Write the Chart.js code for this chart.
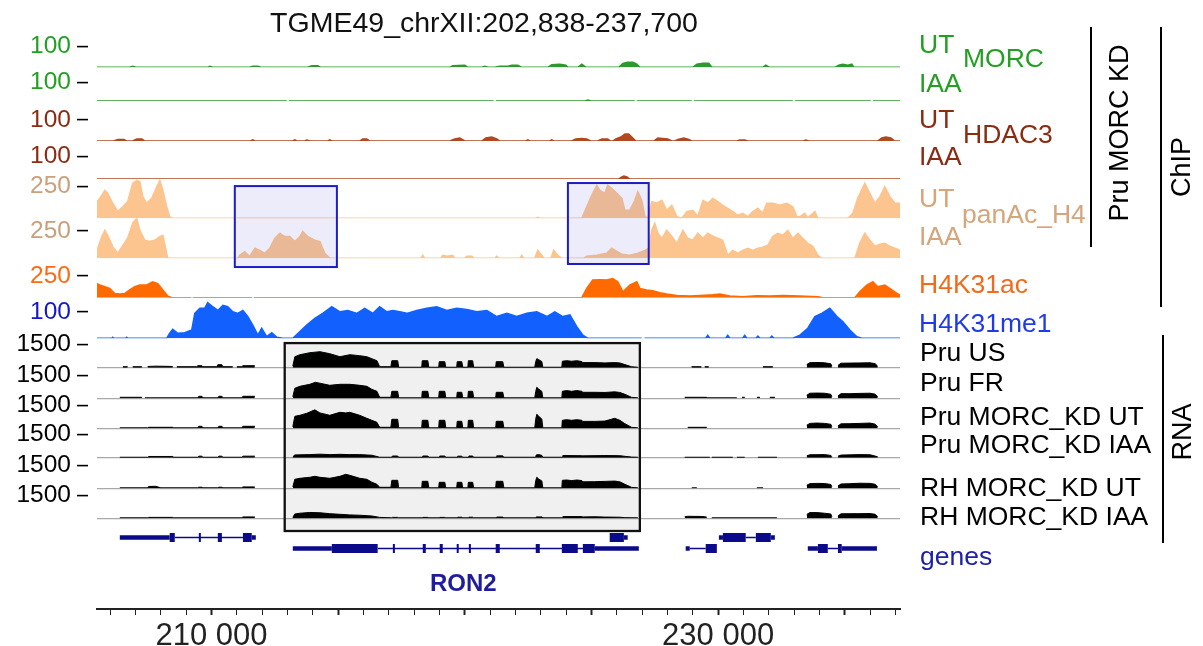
<!DOCTYPE html>
<html lang="en">
<head>
<meta charset="UTF-8">
<title>TGME49_chrXII:202,838-237,700</title>
<script src="https://cdn.jsdelivr.net/npm/chart.js@4.4.0/dist/chart.umd.min.js"></script>
<style>
  html, body { margin: 0; padding: 0; background: #fff; }
  #wrap { position: relative; width: 1203px; height: 646px; overflow: hidden; font-family: "Liberation Sans", Arial, sans-serif; }
  #chart { position: absolute; left: 0; top: 0; }
  .title { position: absolute; left: 484px; top: 8px; font-size: 28.5px; line-height: 28px; color: #111; white-space: nowrap;
           transform: translateX(-50%); }
  .lbl { position: absolute; font-size: 26.5px; line-height: 27px; white-space: nowrap; }
  .vline { position: absolute; width: 2px; background: #000; }
  .vtext { position: absolute; font-size: 27px; line-height: 27px; white-space: nowrap; color: #000;
           transform: translate(-50%, -50%) rotate(-90deg); }
</style>
</head>
<body>
<div id="wrap">
  <canvas id="chart" width="1203" height="646"></canvas>

  <div class="title">TGME49_chrXII:202,838-237,700</div>

  <!-- ChIP track names -->
  <div class="lbl" style="left:919px; top:31px; color:#23a023;">UT</div>
  <div class="lbl" style="left:963px; top:45px; color:#23a023;">MORC</div>
  <div class="lbl" style="left:919px; top:70px; color:#23a023;">IAA</div>
  <div class="lbl" style="left:919px; top:106px; color:#8b2c12;">UT</div>
  <div class="lbl" style="left:963px; top:121px; color:#8b2c12;">HDAC3</div>
  <div class="lbl" style="left:919px; top:143px; color:#8b2c12;">IAA</div>
  <div class="lbl" style="left:919px; top:185px; color:#d6a57a;">UT</div>
  <div class="lbl" style="left:962px; top:201px; color:#d6a57a;">panAc_H4</div>
  <div class="lbl" style="left:919px; top:223px; color:#d6a57a;">IAA</div>
  <div class="lbl" style="left:919px; top:271px; color:#f26a1b;">H4K31ac</div>
  <div class="lbl" style="left:919px; top:310px; color:#1f3be8;">H4K31me1</div>

  <!-- RNA track names -->
  <div class="lbl" style="left:920px; top:339px; color:#000;">Pru US</div>
  <div class="lbl" style="left:920px; top:369px; color:#000;">Pru FR</div>
  <div class="lbl" style="left:920px; top:403px; color:#000;">Pru MORC_KD UT</div>
  <div class="lbl" style="left:920px; top:431px; color:#000;">Pru MORC_KD IAA</div>
  <div class="lbl" style="left:920px; top:474px; color:#000;">RH MORC_KD UT</div>
  <div class="lbl" style="left:920px; top:503px; color:#000;">RH MORC_KD IAA</div>
  <div class="lbl" style="left:920px; top:543px; color:#2020a8;">genes</div>

  <div class="lbl" style="left:430px; top:571px; font-size:24px; line-height:24px; font-weight:bold; color:#1e1e9c;">RON2</div>

  <!-- group brackets -->
  <div class="vline" style="left:1090px; top:27px; height:220px;"></div>
  <div class="vline" style="left:1160px; top:27px; height:280px;"></div>
  <div class="vline" style="left:1162px; top:335px; height:208px;"></div>
  <div class="vtext" style="left:1119px; top:133px;">Pru MORC KD</div>
  <div class="vtext" style="left:1181px; top:167px;">ChIP</div>
  <div class="vtext" style="left:1182px; top:432px;">RNA</div>
</div>

<script>
    // positions in kb on TGME49 chrXII, values are track signal
    var morcUT = [[205.48,0],[206.77,0],[206.89,5],[207.01,0],[209.85,0],[209.93,5],[210.05,0],[211.51,0],[211.63,5],[211.83,5],[211.95,0],
        [213.80,0],[213.96,7],[214.20,7],[214.31,0],[219.41,0],[219.52,7],[220.00,10],[220.12,0],[220.67,0],[220.79,5],[220.91,0],
        [221.18,0],[221.38,5],[221.70,5],[221.86,10],[222.09,10],[222.25,0],[223.28,0],[223.43,12],[223.75,15],[223.99,10],[224.07,0],
        [224.46,0],[224.62,15],[224.78,0],[226.08,0],[226.24,19],[226.43,24],[226.63,24],[226.79,15],[226.91,0],[229.00,0],[229.16,15],
        [229.40,19],[229.63,19],[229.75,0],[231.76,0],[231.88,10],[232.04,0],[234.61,0],[234.76,10],[234.92,15],[235.12,10],[235.28,15],
        [235.36,0],[237.18,0]];
    var morcIAA = [[205.48,0],[212.97,0],[213.01,null],[213.05,0],[221.14,0],[221.18,null],[221.22,0],[224.75,0],[224.86,5],[224.98,0],
        [226.71,0],[226.75,null],[226.79,0],[228.96,0],[229.00,null],[229.04,0],[232.95,0],[232.99,null],[233.03,0],[236.03,0],
        [236.07,null],[236.11,0],[237.18,0]];
    var hdacUT = [[205.48,0],[206.14,0],[206.30,7],[206.54,7],[206.65,0],[206.89,0],[207.05,10],[207.25,10],[207.37,0],[211.55,0],
        [211.63,5],[211.71,0],[213.21,0],[213.29,5],[213.37,0],[213.68,0],[213.76,5],[213.88,0],[214.59,0],[214.67,5],[214.75,0],
        [215.85,0],[215.97,10],[216.13,10],[216.25,0],[219.41,0],[219.60,10],[219.80,14],[220.00,0],[220.67,0],[220.83,14],[221.06,19],
        [221.26,10],[221.38,0],[222.41,0],[222.49,5],[222.57,0],[223.36,0],[223.43,5],[223.51,0],[224.22,0],[224.38,10],[224.62,12],
        [224.81,10],[224.97,0],[225.25,0],[225.41,10],[225.64,10],[225.76,0],[225.84,0],[225.96,10],[226.16,19],[226.32,33],[226.47,33],
        [226.63,14],[226.75,0],[227.46,0],[227.62,14],[227.82,12],[228.01,10],[228.17,0],[228.29,0],[228.41,7],[228.65,14],[228.84,7],
        [228.96,0],[230.74,0],[230.86,5],[231.05,5],[231.17,0],[233.38,0],[233.46,5],[233.58,0],[236.30,0],[236.46,14],[236.62,19],
        [236.82,14],[236.97,0],[237.18,0]];
    var hdacIAA = [[205.48,0],[226.08,0],[226.20,9],[226.28,13],[226.40,9],[226.51,0],[237.18,0]];
    var panAcUT = [[205.48,132],[205.59,158],[205.79,221],[205.90,198],[206.10,119],[206.30,53],[206.50,92],[206.69,132],[206.89,277],
        [207.05,300],[207.17,290],[207.29,171],[207.44,119],[207.64,158],[207.84,250],[207.96,300],[208.08,221],[208.23,92],[208.35,13],
        [208.43,0],[222.80,0],[222.88,8],[222.96,0],[224.62,0],[224.81,92],[225.01,182],[225.21,261],[225.33,221],[225.53,198],
        [225.64,261],[225.80,237],[226.00,198],[226.20,158],[226.32,63],[226.51,63],[226.71,142],[226.83,211],[226.99,142],[227.11,13],
        [227.22,0],[227.38,132],[227.58,119],[227.78,142],[227.97,63],[228.17,103],[228.37,13],[228.57,0],[228.76,53],[229.00,63],
        [229.20,16],[229.40,142],[229.59,119],[229.79,158],[229.99,132],[230.18,103],[230.38,79],[230.58,53],[230.78,24],[230.97,40],
        [231.17,13],[231.37,53],[231.57,79],[231.76,40],[231.92,119],[232.16,119],[232.44,103],[232.71,119],[232.95,92],[233.11,13],
        [233.23,13],[233.42,40],[233.54,4],[233.82,53],[233.94,0],[235.12,0],[235.32,40],[235.51,158],[235.79,277],[235.99,198],
        [236.19,119],[236.39,171],[236.58,250],[236.78,171],[236.98,119],[237.18,119]];
    var panAcIAA = [[205.48,73],[205.67,199],[205.79,256],[205.90,211],[206.10,107],[206.30,46],[206.50,119],[206.69,183],[206.89,321],
        [207.05,366],[207.17,256],[207.37,165],[207.56,153],[207.76,165],[207.96,199],[208.08,211],[208.19,92],[208.27,0],[211.04,0],
        [211.12,30],[211.31,61],[211.51,16],[211.71,92],[211.91,73],[212.10,46],[212.30,92],[212.50,183],[212.70,229],[212.89,199],
        [213.09,199],[213.29,153],[213.49,199],[213.60,245],[213.80,199],[214.08,165],[214.28,153],[214.47,46],[214.67,0],[218.26,0],
        [218.34,27],[218.42,0],[219.05,0],[219.13,27],[219.33,18],[219.52,27],[219.60,0],[220.00,0],[220.08,18],[220.28,18],[220.36,0],
        [221.18,0],[221.26,18],[221.34,0],[222.17,0],[222.25,27],[222.33,0],[222.76,0],[222.88,73],[223.00,37],[223.12,0],[223.40,0],
        [223.51,73],[223.67,27],[223.83,0],[224.70,0],[224.81,18],[225.21,27],[225.60,46],[225.80,92],[226.00,64],[226.20,37],
        [226.51,27],[226.83,46],[227.11,73],[227.26,92],[227.38,256],[227.50,321],[227.62,229],[227.78,183],[227.97,256],[228.17,202],
        [228.37,137],[228.61,256],[228.80,183],[229.00,165],[229.20,229],[229.40,183],[229.59,229],[229.79,202],[229.99,183],
        [230.18,165],[230.38,27],[230.58,73],[230.78,46],[230.97,73],[231.17,92],[231.37,73],[231.57,92],[231.76,101],[231.96,119],
        [232.16,202],[232.36,229],[232.55,211],[232.75,256],[232.95,183],[233.15,229],[233.34,183],[233.54,137],[233.74,110],
        [233.94,27],[234.09,0],[235.40,0],[235.59,137],[235.79,229],[235.99,165],[236.19,110],[236.39,128],[236.58,137],[236.78,110],
        [236.98,92],[237.18,73]];
    var h4k31ac = [[205.48,161],[205.59,146],[205.79,127],[205.98,107],[206.18,49],[206.38,43],[206.58,49],[206.77,89],[206.97,127],
        [207.17,146],[207.44,146],[207.68,184],[207.88,161],[208.08,89],[208.27,20],[208.43,0],[209.20,0],[209.22,null],[209.26,0],
        [211.61,0],[211.63,null],[211.67,0],[224.62,0],[224.81,107],[225.05,204],[225.33,207],[225.60,204],[225.84,222],[226.04,184],
        [226.24,69],[226.51,146],[226.79,184],[226.91,107],[227.18,89],[227.42,81],[227.70,58],[227.97,43],[228.37,26],[228.88,20],
        [229.28,26],[229.79,35],[230.07,43],[230.46,20],[230.97,12],[231.53,23],[232.04,20],[232.55,26],[233.23,20],[233.94,12],
        [234.13,0],[235.40,0],[235.59,69],[235.87,146],[236.11,184],[236.30,127],[236.58,146],[236.86,89],[237.06,49],[237.18,31]];
    var h4k31me1 = [[205.48,0],[206.06,0],[206.10,4],[206.14,0],[206.61,0],[206.65,4],[206.69,0],[208.23,0],[208.35,19],[208.47,34],
        [208.67,19],[208.94,21],[209.22,31],[209.34,94],[209.54,113],[209.73,113],[209.85,134],[210.05,119],[210.25,105],[210.45,124],
        [210.64,119],[210.84,100],[211.04,94],[211.24,105],[211.43,82],[211.63,50],[211.83,12],[211.98,38],[212.18,6],[212.38,21],
        [212.58,4],[212.81,0],[213.21,0],[213.49,25],[213.76,50],[214.08,75],[214.39,94],[214.75,119],[215.07,100],[215.38,105],
        [215.74,94],[216.05,113],[216.37,94],[216.64,119],[216.92,100],[217.16,105],[217.43,100],[217.71,94],[218.10,105],[218.50,113],
        [218.89,119],[219.29,105],[219.68,113],[220.08,109],[220.47,100],[220.87,105],[221.26,82],[221.66,94],[222.05,82],[222.45,94],
        [222.84,100],[223.24,82],[223.55,100],[223.87,82],[224.15,88],[224.42,44],[224.66,12],[224.86,0],[226.99,0],[227.03,null],
        [227.09,0],[229.51,0],[229.59,11],[229.67,0],[230.30,0],[230.38,11],[230.46,0],[230.97,0],[231.05,11],[231.13,0],[231.49,0],
        [231.57,8],[231.65,0],[232.04,0],[232.12,8],[232.20,0],[232.95,0],[233.23,12],[233.54,38],[233.82,82],[234.09,94],[234.41,113],
        [234.69,82],[234.92,63],[235.20,31],[235.48,6],[235.67,0],[237.18,0]];

    // RNA coverage, one list per covered stretch
    var rnaPruUS = [
        [[206.50,65],[206.69,65]], [[206.89,65],[207.25,65]], [[207.48,80],[207.80,100],[208.20,90],[208.47,80]],
        [[208.63,65],[209.42,65],[209.46,130],[209.62,130],[209.66,65],[210.21,65],[210.25,195],[210.41,195],[210.45,65],[210.84,65]],
        [[211.00,65],[211.20,65],[211.24,130],[211.71,130]],
        [[213.21,100],[213.29,715],[213.49,845],[213.88,975],[214.28,1040],[214.67,910],[215.07,715],[215.46,845],[215.85,780],
         [216.13,715],[216.33,585],[216.53,455],[216.64,65],[217.08,65],[217.12,455],[217.35,455],[217.39,30],[218.30,30],[218.32,455],
         [218.54,455],[218.58,30],[218.97,30],[218.99,390],[219.21,390],[219.25,30],[219.68,30],[219.70,390],[219.88,390],[219.92,30],
         [220.12,30],[220.14,455],[220.31,455],[220.35,30],[221.22,30],[221.24,390],[221.50,390],[221.54,30],[222.76,30],[222.80,400],
         [222.84,585],[222.92,520],[223.04,400],[223.08,30],[223.83,30],[223.85,420],[224.02,455],[224.22,420],[224.42,455],[224.62,400],
         [224.66,330],[225.13,330],[225.53,310],[225.92,330],[226.12,310],[226.32,200],[226.59,60],[226.83,30]],
        [[228.95,65],[229.34,65]], [[229.47,65],[229.63,65]], [[231.77,65],[232.16,65]],
        [[233.50,200],[233.62,325],[233.90,340],[234.20,320],[234.45,250],[234.49,100]],
        [[234.73,150],[234.85,290],[235.20,300],[235.60,310],[236.00,320],[236.20,260],[236.30,100]]
    ];
    var rnaPruFR = [
        [[206.38,65],[207.25,65]],
        [[207.37,30],[209.46,30],[209.50,130],[209.62,130],[209.66,30],[210.25,30],[210.29,130],[210.41,130],[210.45,30],[211.20,30],
         [211.24,130],[211.71,130]],
        [[213.21,100],[213.29,650],[213.49,780],[213.88,910],[214.10,1040],[214.28,980],[214.67,845],[215.07,910],[215.46,910],[215.85,845],
         [216.13,780],[216.33,585],[216.53,455],[216.64,65],[217.08,65],[217.12,455],[217.35,455],[217.39,30],[218.30,30],[218.32,455],
         [218.54,455],[218.58,30],[218.97,30],[218.99,455],[219.21,455],[219.25,30],[219.68,30],[219.70,390],[219.88,390],[219.92,30],
         [220.12,30],[220.14,455],[220.31,455],[220.35,30],[221.22,30],[221.24,390],[221.50,390],[221.54,30],[222.76,30],[222.80,450],
         [222.84,715],[222.92,600],[223.04,450],[223.08,30],[223.83,30],[223.85,455],[224.02,500],[224.22,455],[224.42,500],[224.62,455],
         [224.66,390],[225.13,390],[225.53,380],[225.92,420],[226.12,380],[226.32,260],[226.59,60],[226.83,30]],
        [[228.68,65],[229.55,65],[229.57,30],[230.74,30]], [[230.94,65],[231.05,65]], [[231.53,65],[231.65,65]], [[232.04,65],[232.24,65]],
        [[233.50,200],[233.62,330],[233.90,340],[234.20,330],[234.45,260],[234.49,100]],
        [[234.73,150],[234.85,300],[235.20,300],[235.60,320],[236.00,330],[236.20,270],[236.30,100]]
    ];
    var rnaPruKdUT = [
        [[206.38,30],[207.48,30],[207.52,65],[208.47,65],[208.51,30],[209.46,30],[209.50,130],[209.62,130],[209.66,30],[210.25,30],
         [210.29,130],[210.41,130],[210.45,30],[211.20,30],[211.24,130],[211.71,130]],
        [[213.21,100],[213.29,780],[213.49,845],[213.76,975],[214.08,1200],[214.28,1000],[214.67,845],[215.07,1040],[215.30,1000],
         [215.46,1040],[215.85,845],[216.13,650],[216.33,520],[216.53,390],[216.64,65],[217.08,65],[217.12,585],[217.35,585],[217.39,30],
         [218.30,30],[218.32,520],[218.54,520],[218.58,30],[218.97,30],[218.99,520],[219.21,520],[219.25,30],[219.68,30],[219.70,455],
         [219.88,455],[219.92,30],[220.12,30],[220.14,520],[220.31,520],[220.35,30],[221.22,30],[221.24,455],[221.50,455],[221.54,30],
         [222.76,30],[222.80,600],[222.84,910],[222.92,780],[223.04,600],[223.08,30],[223.83,30],[223.85,520],[224.02,560],[224.22,520],
         [224.42,560],[224.62,520],[224.66,450],[225.13,450],[225.53,470],[225.92,650],[226.12,520],[226.32,300],[226.59,60],[226.83,30]],
        [[228.80,65],[229.55,65]],
        [[233.50,200],[233.62,320],[233.90,340],[234.20,320],[234.45,260],[234.49,100]],
        [[234.73,150],[234.85,290],[235.20,300],[235.60,320],[236.00,340],[236.20,270],[236.30,100]]
    ];
    var rnaPruKdIAA = [
        [[206.38,30],[207.48,30],[207.52,80],[208.47,80],[208.51,30],[209.46,30],[209.50,100],[209.62,100],[209.66,30],[210.25,30],
         [210.29,100],[210.41,100],[210.45,30],[211.20,30],[211.24,100],[211.71,100]],
        [[213.21,60],[213.29,180],[213.88,200],[214.28,230],[214.67,200],[215.07,220],[215.46,200],[215.85,200],[216.33,160],[216.64,30],
         [217.12,30],[217.14,110],[217.35,110],[217.39,30],[218.32,30],[218.34,110],[218.54,110],[218.58,30],[218.99,30],[219.01,110],
         [219.21,110],[219.25,30],[219.70,30],[219.72,100],[219.88,100],[219.92,30],[220.14,30],[220.16,110],[220.31,110],[220.35,30],
         [221.24,30],[221.26,120],[221.50,120],[221.54,30],[222.80,30],[222.82,180],[222.92,200],[223.04,150],[223.08,30],[223.85,30],
         [223.87,140],[224.62,130],[224.66,120],[225.53,140],[226.12,130],[226.32,90],[226.59,40],[226.83,30]],
        [[228.68,30],[229.67,30]], [[229.75,30],[230.58,30]], [[230.74,30],[231.05,30]], [[231.57,30],[232.32,30]],
        [[233.50,120],[233.62,190],[234.20,200],[234.45,150],[234.49,60]],
        [[234.73,100],[234.85,170],[235.60,200],[236.00,190],[236.30,60]]
    ];
    var rnaRhKdUT = [
        [[206.38,30],[207.48,30],[207.52,120],[207.80,130],[208.00,30],[209.46,30],[209.50,70],[209.62,70],[209.66,30],[210.25,30],
         [210.29,70],[210.41,70],[210.45,30],[211.20,30],[211.24,90],[211.71,90]],
        [[213.21,100],[213.29,585],[213.49,650],[213.88,715],[214.08,780],[214.28,715],[214.67,650],[215.07,780],[215.30,910],[215.46,845],
         [215.85,650],[216.13,585],[216.33,400],[216.53,260],[216.64,65],[217.08,65],[217.12,520],[217.35,520],[217.39,30],[218.30,30],
         [218.32,455],[218.54,455],[218.58,30],[218.97,30],[218.99,390],[219.21,390],[219.25,30],[219.68,30],[219.70,390],[219.88,390],
         [219.92,30],[220.12,30],[220.14,390],[220.31,390],[220.35,30],[221.22,30],[221.24,455],[221.50,455],[221.54,30],[222.76,30],
         [222.80,500],[222.84,715],[222.92,600],[223.04,480],[223.08,30],[223.83,30],[223.85,520],[224.02,540],[224.22,500],[224.42,540],
         [224.62,500],[224.66,420],[225.13,430],[225.53,450],[225.92,470],[226.12,420],[226.32,260],[226.59,60],[226.83,30]],
        [[228.96,30],[229.16,30]], [[231.53,30],[231.77,30]],
        [[233.50,200],[233.62,300],[233.90,320],[234.20,310],[234.45,250],[234.49,100]],
        [[234.73,150],[234.85,280],[235.20,300],[235.60,330],[236.00,320],[236.20,260],[236.30,100]]
    ];
    var rnaRhKdIAA = [
        [[206.38,30],[207.48,30],[207.52,60],[208.47,60],[208.51,30],[211.20,30],[211.24,90],[211.71,90]],
        [[213.21,60],[213.29,280],[213.49,330],[213.88,380],[214.28,360],[214.67,300],[215.07,260],[215.46,220],[215.85,200],[216.33,150],
         [216.64,60],[217.12,30],[217.14,60],[217.35,60],[217.39,30],[218.32,30],[218.34,60],[218.54,60],[218.58,30],[218.99,30],
         [219.01,60],[219.21,60],[219.25,30],[219.70,30],[219.72,70],[219.88,70],[219.92,30],[220.14,30],[220.16,70],[220.31,70],
         [220.35,30],[221.24,30],[221.26,80],[221.50,80],[221.54,30],[222.80,30],[222.82,90],[223.04,90],[223.08,30],[223.85,30],
         [223.87,110],[224.62,110],[224.66,90],[225.13,100],[225.53,80],[226.12,70],[226.32,40],[226.83,30]],
        [[228.68,100],[228.80,130],[229.36,120],[229.55,80]], [[229.75,30],[232.32,30]],
        [[233.50,250],[233.62,370],[233.90,370],[234.20,330],[234.45,280],[234.49,100]],
        [[234.73,150],[234.85,290],[235.20,300],[235.60,300],[236.00,310],[236.20,260],[236.30,100]]
    ];

    // gene models: [start kb, end kb, row]
    var geneIntrons = [[208.55,211.24,1],[231.09,231.49,1],[216.56,225.13,2],[228.88,229.51,2],[234.33,234.73,2]];
    var geneUTRs = [[206.38,208.35,1],[211.59,211.75,1],[226.28,226.43,1],[230.03,230.19,1],[232.08,232.24,1],
        [213.21,214.75,2],[225.13,226.87,2],[228.72,228.88,2],[233.54,233.94,2],[234.88,236.27,2]];
    var geneExons = [[208.35,208.55,1],[209.50,209.58,1],[210.25,210.41,1],[211.24,211.59,1],[225.72,226.28,1],[230.19,231.09,1],
        [231.49,232.08,1],[214.75,216.56,2],[217.16,217.24,2],[218.34,218.46,2],[219.01,219.13,2],[219.68,219.76,2],[220.16,220.24,2],
        [221.22,221.38,2],[222.80,222.96,2],[223.83,224.46,2],[224.66,225.13,2],[229.51,229.95,2],[233.94,234.33,2],[234.73,234.88,2]];

    var xTickKb = [210, 230];
    var xTickText = ['210 000', '230 000'];

    // track layout, top to bottom
    var tracks = [
        {id: 'morcUT',   data: morcUT,   h: 27.3, max: 132,  tick: 100,  tickColor: '#22a022', color: '#2b9a2b'},
        {id: 'morcIAA',  data: morcIAA,  h: 33.7, max: 184,  tick: 100,  tickColor: '#22a022', color: '#2b9a2b'},
        {id: 'hdacUT',   data: hdacUT,   h: 40,   max: 190,  tick: 100,  tickColor: '#8b2c12', color: '#b04820'},
        {id: 'hdacIAA',  data: hdacIAA,  h: 38,   max: 170,  tick: 100,  tickColor: '#8b2c12', color: '#b04820'},
        {id: 'panAcUT',  data: panAcUT,  h: 39.3, max: 311,  tick: 250,  tickColor: '#c9a07c', color: '#fcc48e'},
        {id: 'panAcIAA', data: panAcIAA, h: 40,   max: 366,  tick: 250,  tickColor: '#c9a07c', color: '#fcc48e'},
        {id: 'h4k31ac',  data: h4k31ac,  h: 39.4, max: 454,  tick: 250,  tickColor: '#ff6a10', color: '#ff6a00'},
        {id: 'h4k31me1', data: h4k31me1, h: 40.6, max: 153,  tick: 100,  tickColor: '#1515cc', color: '#1261ff'},
        {id: 'rna1', rna: rnaPruUS,    h: 29.4, max: 1911, tick: 1500, tickColor: '#000', color: '#000'},
        {id: 'rna2', rna: rnaPruFR,    h: 30.6, max: 1989, tick: 1500, tickColor: '#000', color: '#000'},
        {id: 'rna3', rna: rnaPruKdUT,  h: 30,   max: 1950, tick: 1500, tickColor: '#000', color: '#000'},
        {id: 'rna4', rna: rnaPruKdIAA, h: 29.4, max: 1911, tick: 1500, tickColor: '#000', color: '#000'},
        {id: 'rna5', rna: rnaRhKdUT,   h: 30.6, max: 1989, tick: 1500, tickColor: '#000', color: '#000'},
        {id: 'rna6', rna: rnaRhKdIAA,  h: 30,   max: 1950, tick: 1500, tickColor: '#000', color: '#000'}
    ];

    var highlightBoxes = [
        {from: 210.92, to: 214.95, topAxis: 'panAcUT', topValue: 255, bottomAxis: 'panAcIAA', bottomValue: -80,
         stroke: '#1c1cc8', fill: 'rgba(100,100,210,0.12)', width: 2},
        {from: 224.07, to: 227.26, topAxis: 'panAcUT', topValue: 279, bottomAxis: 'panAcIAA', bottomValue: -52,
         stroke: '#1c1cc8', fill: 'rgba(100,100,210,0.12)', width: 2},
        {from: 212.89, to: 226.91, topAxis: 'rna1', topValue: 1600, bottomAxis: 'rna6', bottomValue: -825,
         stroke: '#111', fill: 'rgba(0,0,0,0.06)', width: 2.3}
    ];

    function toXY(arr) {
        return arr.map(function (p) { return {x: p[0], y: p[1]}; });
    }
    function segmentsXY(segs) {
        var out = [];
        segs.forEach(function (s) {
            s.forEach(function (p) { out.push({x: p[0], y: p[1]}); });
            out.push({x: s[s.length - 1][0], y: null});
        });
        return out;
    }
    function spansXY(list) {
        var out = [];
        list.slice().sort(function (a, b) { return a[0] - b[0]; }).forEach(function (g) {
            out.push({x: g[0], y: g[2]}, {x: g[1], y: g[2]}, {x: g[1], y: null});
        });
        return out;
    }

    Chart.defaults.font.family = '"Liberation Sans", Arial, sans-serif';

    var datasets = [];
    var scales = {
        x: {
            type: 'linear', position: 'bottom', min: 205.48, max: 237.18,
            ticks: {
                stepSize: 1, includeBounds: false, autoSkip: false, maxRotation: 0,
                font: {size: 31}, color: '#222', padding: 3,
                callback: function (v) {
                    var i = xTickKb.findIndex(function (k) { return Math.abs(k - v) < 1e-6; });
                    return i >= 0 ? xTickText[i] : '';
                }
            },
            grid: {
                drawOnChartArea: false, tickLength: 6, tickColor: '#222',
                tickWidth: function (c) { return Math.abs(c.tick.value / 5 - Math.round(c.tick.value / 5)) < 1e-6 ? 2 : 1; }
            },
            border: {display: true, color: '#222', width: 2},
            afterFit: function (s) { s.height = 37; }
        }
    };

    tracks.forEach(function (t, i) {
        scales[t.id] = {
            type: 'linear', position: 'left', stack: 'tracks', stackWeight: t.h, weight: 100 - i,
            min: 0, max: t.max,
            afterBuildTicks: function (s) { s.ticks = [{value: 0}, {value: t.tick}]; },
            afterFit: function (s) { s.width = 97; },
            ticks: {
                autoSkip: false, color: t.tickColor, font: {size: 24.5}, padding: 6,
                callback: function (v) { return v === 0 ? '' : String(v); }
            },
            grid: {
                drawOnChartArea: !!t.rna,
                color: function (c) { return c.tick && c.tick.value === 0 ? '#a8a8a8' : 'rgba(0,0,0,0)'; },
                lineWidth: 1.2,
                tickLength: 20, tickWidth: 1.6, tickBorderDash: [11, 9],
                tickColor: function (c) { return c.tick && c.tick.value === 0 ? 'rgba(0,0,0,0)' : '#000'; }
            },
            border: {display: false}
        };
        if (t.rna) {
            datasets.push({
                data: segmentsXY(t.rna), yAxisID: t.id, borderColor: '#000', backgroundColor: '#000',
                borderWidth: 1, fill: 'origin', pointRadius: 0, tension: 0, spanGaps: false
            });
        } else {
            datasets.push({
                data: toXY(t.data), yAxisID: t.id, borderColor: t.color, backgroundColor: t.color,
                borderWidth: 1.5, fill: 'origin', pointRadius: 0, tension: 0, spanGaps: false
            });
        }
    });

    scales.genes = {
        type: 'linear', position: 'left', stack: 'tracks', stackWeight: 90.7, weight: 100 - tracks.length,
        min: -0.75, max: 7.5, reverse: true,
        ticks: {display: false}, grid: {display: false}, border: {display: false},
        afterFit: function (s) { s.width = 97; }
    };

    var geneColor = '#0b0b8a';
    [[geneIntrons, 1.5], [geneUTRs, 4.5], [geneExons, 9]].forEach(function (g) {
        datasets.push({
            data: spansXY(g[0]), yAxisID: 'genes', borderColor: geneColor, backgroundColor: geneColor,
            borderWidth: g[1], borderCapStyle: 'butt', fill: false, pointRadius: 0, spanGaps: false
        });
    });

    var boxPlugin = {
        id: 'boxes',
        afterDatasetsDraw: function (chart) {
            var ctx = chart.ctx, xs = chart.scales.x;
            highlightBoxes.forEach(function (b) {
                var x0 = xs.getPixelForValue(b.from), x1 = xs.getPixelForValue(b.to);
                var y0 = chart.scales[b.topAxis].getPixelForValue(b.topValue);
                var y1 = chart.scales[b.bottomAxis].getPixelForValue(b.bottomValue);
                ctx.save();
                ctx.fillStyle = b.fill;
                ctx.fillRect(x0, y0, x1 - x0, y1 - y0);
                ctx.lineWidth = b.width;
                ctx.strokeStyle = b.stroke;
                ctx.strokeRect(x0, y0, x1 - x0, y1 - y0);
                ctx.restore();
            });
        }
    };

    new Chart(document.getElementById('chart').getContext('2d'), {
        type: 'line',
        data: {datasets: datasets},
        options: {
            responsive: false,
            animation: false,
            events: [],
            layout: {padding: {left: 0, right: 303, top: 40, bottom: 0}},
            plugins: {
                legend: {display: false},
                tooltip: {enabled: false},
                title: {display: false}
            },
            scales: scales
        },
        plugins: [boxPlugin]
    });
</script>
</body>
</html>
